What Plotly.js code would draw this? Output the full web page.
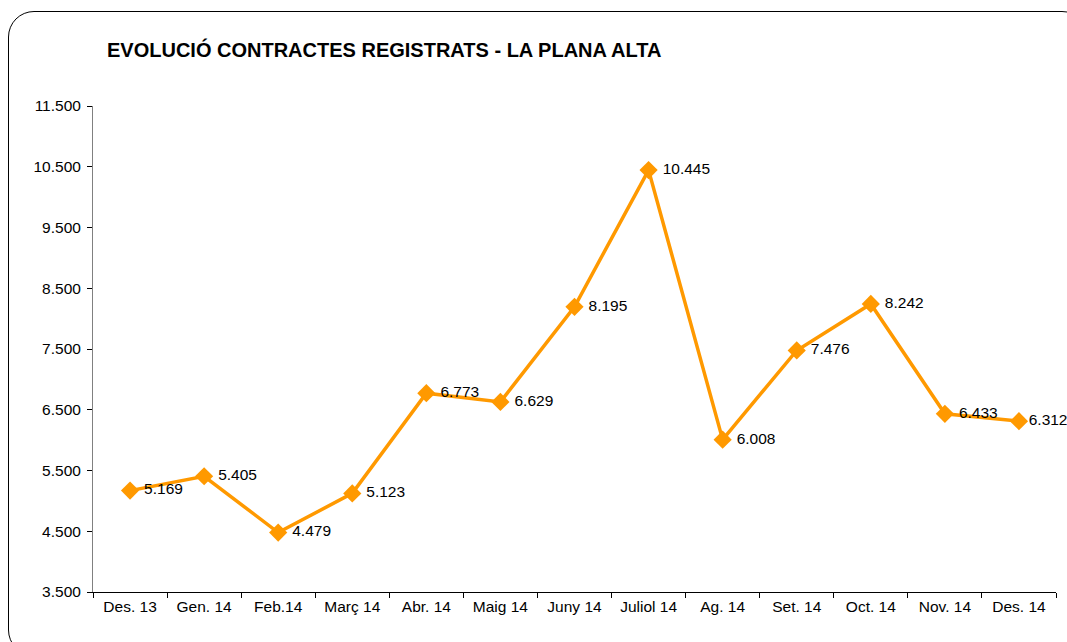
<!DOCTYPE html>
<html><head><meta charset="utf-8">
<script src="https://cdn.plot.ly/plotly-3.0.1.min.js"></script>
<style>
html,body{margin:0;padding:0;background:#fff;}
#wrap{position:relative;width:1067px;height:642px;overflow:hidden;}
#frame{position:absolute;left:8px;top:11px;width:1080px;height:645px;border:1.3px solid #000;border-radius:26px;box-sizing:border-box;pointer-events:none;z-index:5;}
#chart{position:absolute;left:0;top:0;width:1067px;height:642px;}
</style></head>
<body><div id="wrap"><div id="chart"></div><div id="frame"></div></div>
<script>
const categories = ["Des. 13","Gen. 14","Feb.14","Març 14","Abr. 14","Maig 14","Juny 14","Juliol 14","Ag. 14","Set. 14","Oct. 14","Nov. 14","Des. 14"];
const contractes = [5169,5405,4479,5123,6773,6629,8195,10445,6008,7476,8242,6433,6312];
const yTicks = [3500,4500,5500,6500,7500,8500,9500,10500,11500];

const labelTemplates = categories.map((c, i) => i === categories.length - 1 ? '%{y:,}' : ' %{y:,}');

const trace = {
  x: categories, y: contractes, type: 'scatter', mode: 'lines+markers+text',
  line: {color: '#FF9900', width: 3.5},
  marker: {symbol: 'diamond', size: 14, color: '#FF9900'},
  texttemplate: labelTemplates, textposition: 'middle right',
  textfont: {family: 'Liberation Sans, Arial, sans-serif', size: 15.5, color: '#000'},
  cliponaxis: false, hoverinfo: 'none'
};
const layout = {
  width: 1067, height: 642,
  margin: {l: 93, r: 11, t: 106, b: 50},
  paper_bgcolor: '#fff', plot_bgcolor: '#fff',
  separators: ',.',
  showlegend: false,
  font: {family: 'Liberation Sans, Arial, sans-serif', size: 15.5, color: '#000'},
  title: {text: '<b>EVOLUCIÓ CONTRACTES REGISTRATS - LA PLANA ALTA</b>',
    font: {size: 20, family: 'Liberation Sans, Arial, sans-serif', color: '#000'},
    x: 107/1067, xanchor: 'left', xref: 'container', y: 1 - 50/642, yanchor: 'middle', yref: 'container'},
  xaxis: {type: 'category', range: [-0.5, 12.5], showgrid: false, zeroline: false, showline: true, linecolor: '#000', linewidth: 1,
    ticks: 'outside', tickson: 'boundaries', ticklen: 5, tickcolor: '#000',
    tickfont: {size: 15.5}, fixedrange: true},
  yaxis: {range: [3500, 11500], tickmode: 'array', tickvals: yTicks, tickformat: ',d',
    showgrid: false, zeroline: false, showline: true, linecolor: '#808080', linewidth: 1,
    ticks: 'outside', ticklen: 5, tickcolor: '#000', ticklabelstandoff: 3, tickfont: {size: 15.5}, fixedrange: true}
};
Plotly.newPlot('chart', [trace], layout, {displayModeBar: false, staticPlot: true});
</script></body></html>
